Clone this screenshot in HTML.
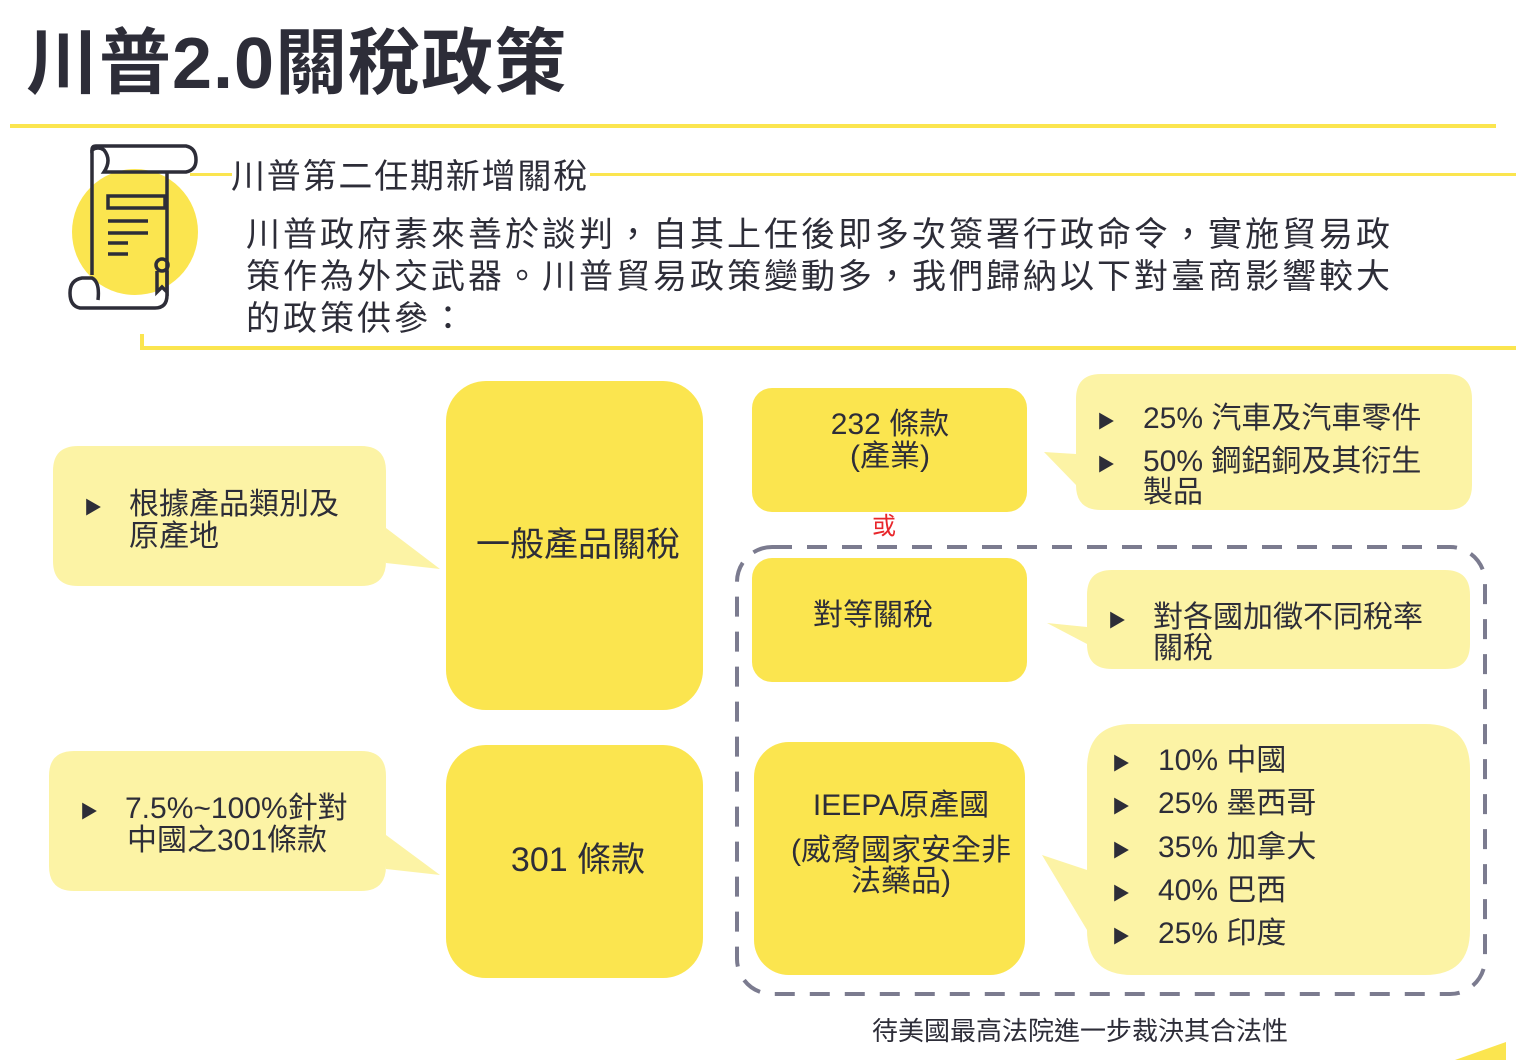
<!DOCTYPE html>
<html><head><meta charset="utf-8">
<style>
html,body{margin:0;padding:0;background:#fff;}
svg{display:block;}
text{font-family:"Liberation Sans","Noto Sans CJK TC",sans-serif;fill:#2d2d38;}
</style></head>
<body>
<svg width="1516" height="1060" viewBox="0 0 1516 1060" xmlns="http://www.w3.org/2000/svg">
<!-- title -->
<text x="26" y="88" font-size="72" font-weight="bold" letter-spacing="1">川普2.0關稅政策</text>
<rect x="10" y="124" width="1486" height="4" fill="#fbe54f"/>

<!-- icon -->
<circle cx="135" cy="232" r="63" fill="#fbe54f"/>
<g fill="none" stroke="#2d2d38" stroke-width="3.5">
<path d="M92 150 Q92 146 96 146 L186 146 Q196 148 196 160 Q196 170 186 172 L104 172 Q112 160 104 150 Q98 146 92 150 Z"/>
<path d="M92 150 L92 275"/>
<path d="M167 172 L167 295 Q167 308 155 308 L80 308 Q70 306 70 293 Q70 280 82 278 L92 278 Q100 282 98 300"/>
<rect x="108" y="196" width="57" height="12"/>
<line x1="108" y1="221" x2="148" y2="221"/>
<line x1="108" y1="233" x2="148" y2="233"/>
<line x1="108" y1="243" x2="128" y2="243"/>
<line x1="108" y1="254" x2="128" y2="254"/>
<circle cx="162" cy="265" r="6"/>
<path d="M157 271 L157 292 L162 287 L167 292 L167 271"/>
</g>

<!-- heading -->
<rect x="190" y="173" width="42" height="3" fill="#fbe54f"/>
<rect x="590" y="173" width="926" height="3" fill="#fbe54f"/>
<text x="231" y="188" font-size="34" letter-spacing="1.8">川普第二任期新增關稅</text>
<text x="246" y="246" font-size="34" letter-spacing="3">川普政府素來善於談判，自其上任後即多次簽署行政命令，實施貿易政</text>
<text x="246" y="288" font-size="34" letter-spacing="3">策作為外交武器。川普貿易政策變動多，我們歸納以下對臺商影響較大</text>
<text x="246" y="330" font-size="34" letter-spacing="3">的政策供參：</text>
<path d="M142 334 L142 348 L1516 348" fill="none" stroke="#fbe54f" stroke-width="4"/>

<!-- left callouts -->
<path d="M78 446 L361 446 Q386 446 386 471 L386 528 L440 569 L386 563 L386 561 Q386 586 361 586 L78 586 Q53 586 53 561 L53 471 Q53 446 78 446 Z" fill="#fcf3a5"/>
<text x="84" y="514" font-size="18">▶</text>
<text x="129" y="514" font-size="30">根據產品類別及</text>
<text x="129" y="546" font-size="30">原產地</text>

<path d="M74 751 L361 751 Q386 751 386 776 L386 835 L440 875 L386 869 L386 866 Q386 891 361 891 L74 891 Q49 891 49 866 L49 776 Q49 751 74 751 Z" fill="#fcf3a5"/>
<text x="80" y="818" font-size="18">▶</text>
<text x="125" y="818" font-size="30">7.5%~100%針對</text>
<text x="127" y="850" font-size="30">中國之301條款</text>

<!-- main boxes -->
<rect x="446" y="381" width="257" height="329" rx="40" fill="#fbe54f"/>
<text x="578" y="556" font-size="34" text-anchor="middle">一般產品關稅</text>
<rect x="446" y="745" width="257" height="233" rx="40" fill="#fbe54f"/>
<text x="578" y="871" font-size="34" text-anchor="middle">301 條款</text>

<!-- 232 -->
<rect x="752" y="388" width="275" height="124" rx="20" fill="#fbe54f"/>
<text x="890" y="434" font-size="30" text-anchor="middle">232 條款</text>
<text x="890" y="466" font-size="30" text-anchor="middle">(產業)</text>
<path d="M1101 374 L1447 374 Q1472 374 1472 399 L1472 485 Q1472 510 1447 510 L1101 510 Q1076 510 1076 485 L1044 452 L1076 454 L1076 399 Q1076 374 1101 374 Z" fill="#fcf3a5"/>
<text x="1097" y="428" font-size="18">▶</text>
<text x="1097" y="471" font-size="18">▶</text>
<text x="1143" y="428" font-size="30">25% 汽車及汽車零件</text>
<text x="1143" y="471" font-size="30">50% 鋼鋁銅及其衍生</text>
<text x="1143" y="502" font-size="30">製品</text>

<text x="884" y="534" font-size="24" text-anchor="middle" style="fill:#e8262b">或</text>

<!-- dashed -->
<rect x="737" y="547" width="748" height="447" rx="35" fill="none" stroke="#7b7b8f" stroke-width="4" stroke-dasharray="20 15"/>

<rect x="752" y="558" width="275" height="124" rx="20" fill="#fbe54f"/>
<text x="873" y="625" font-size="30" text-anchor="middle">對等關稅</text>
<path d="M1112 570 L1445 570 Q1470 570 1470 595 L1470 644 Q1470 669 1445 669 L1112 669 Q1087 669 1087 644 L1047 623 L1087 627 L1087 595 Q1087 570 1112 570 Z" fill="#fcf3a5"/>
<text x="1108" y="627" font-size="18">▶</text>
<text x="1153" y="627" font-size="30">對各國加徵不同稅率</text>
<text x="1153" y="658" font-size="30">關稅</text>

<rect x="754" y="742" width="271" height="233" rx="35" fill="#fbe54f"/>
<text x="901" y="815" font-size="30" text-anchor="middle">IEEPA原產國</text>
<text x="901" y="860" font-size="30" text-anchor="middle">(威脅國家安全非</text>
<text x="901" y="891" font-size="30" text-anchor="middle">法藥品)</text>

<path d="M1132 724 L1425 724 Q1470 724 1470 769 L1470 930 Q1470 975 1425 975 L1132 975 Q1087 975 1087 930 L1042 855 L1087 870 L1087 769 Q1087 724 1132 724 Z" fill="#fcf3a5"/>
<g font-size="18">
<text x="1112" y="770">▶</text><text x="1112" y="813">▶</text><text x="1112" y="857">▶</text><text x="1112" y="900">▶</text><text x="1112" y="943">▶</text>
</g>
<g font-size="30">
<text x="1158" y="770">10% 中國</text>
<text x="1158" y="813">25% 墨西哥</text>
<text x="1158" y="857">35% 加拿大</text>
<text x="1158" y="900">40% 巴西</text>
<text x="1158" y="943">25% 印度</text>
</g>

<text x="872" y="1040" font-size="26">待美國最高法院進一步裁決其合法性</text>
<path d="M1455 1060 L1506 1042 L1506 1060 Z" fill="#fbe54f"/>
</svg>
</body></html>
